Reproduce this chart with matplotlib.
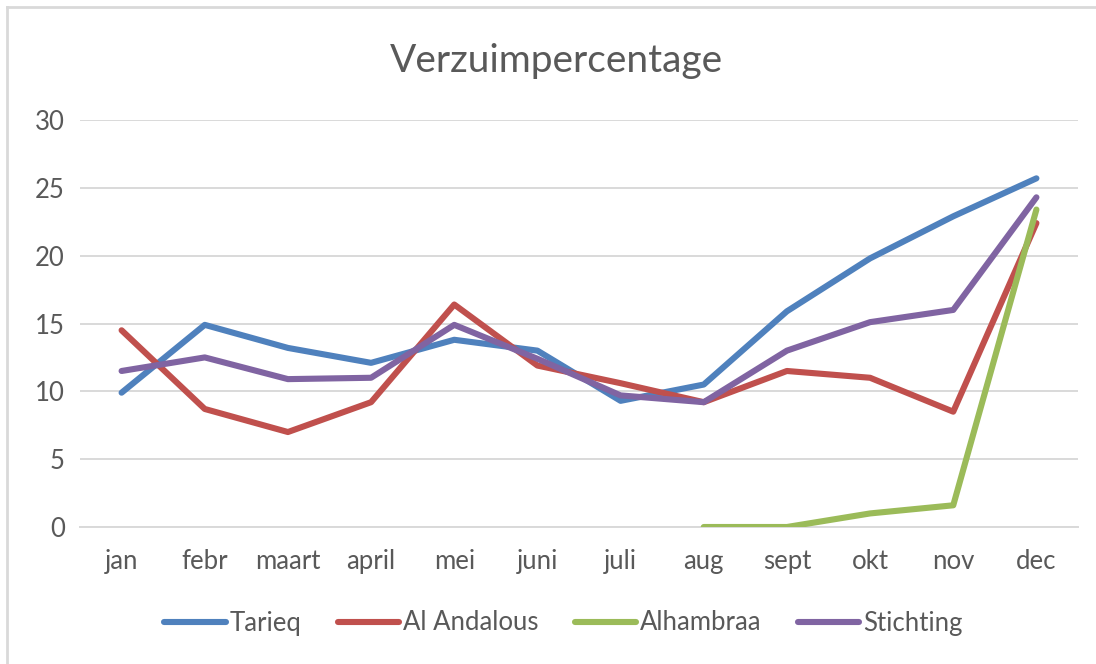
import matplotlib
matplotlib.use("Agg")
import matplotlib.pyplot as plt
from matplotlib.lines import Line2D

plt.rcParams["font.family"] = ["Lato", "DejaVu Sans"]

months = ["jan", "febr", "maart", "april", "mei", "juni",
          "juli", "aug", "sept", "okt", "nov", "dec"]

tarieq      = [9.9, 14.9, 13.2, 12.1, 13.8, 13.0, 9.3, 10.5, 15.9, 19.8, 22.9, 25.7]
al_andalous = [14.5, 8.7, 7.0, 9.2, 16.4, 11.9, 10.6, 9.2, 11.5, 11.0, 8.5, 22.4]
alhambraa   = [None] * 7 + [0.0, 0.0, 1.0, 1.6, 23.4]
stichting   = [11.5, 12.5, 10.9, 11.0, 14.9, 12.4, 9.7, 9.2, 13.0, 15.1, 16.0, 24.3]

series = [
    ("Tarieq", tarieq, "#4F81BD"),
    ("Al Andalous", al_andalous, "#C0504D"),
    ("Alhambraa", alhambraa, "#9BBB59"),
    ("Stichting", stichting, "#8064A2"),
]

fig = plt.figure(figsize=(10.96, 6.64), dpi=100)
ax = fig.add_axes([80 / 1096, 1 - 527 / 664, 998 / 1096, 407 / 664])

x = list(range(len(months)))
for name, vals, col in series:
    xs = [i for i, v in zip(x, vals) if v is not None]
    ys = [v for v in vals if v is not None]
    ax.plot(xs, ys, color=col, linewidth=4.4, solid_capstyle="round",
            solid_joinstyle="round", label=name, zorder=3)

ax.set_xlim(-0.5, 11.5)
ax.set_ylim(0, 30)
ax.set_yticks(range(0, 31, 5))
ax.set_xticks(x)
ax.set_xticklabels(months)
ax.grid(axis="y", color="#d9d9d9", linewidth=1.4, zorder=0)
for s in ["top", "right", "left"]:
    ax.spines[s].set_visible(False)
ax.spines["bottom"].set_color("#d9d9d9")
ax.spines["bottom"].set_linewidth(1.4)
ax.tick_params(length=0, labelsize=18.5, labelcolor="#595959")
ax.tick_params(axis="x", pad=16)
ax.tick_params(axis="y", pad=11)

fig.text(0.508, 1 - 61 / 664, "Verzuimpercentage", ha="center", va="center",
         fontsize=28, color="#595959")

handles = [Line2D([0], [0], color=c, linewidth=4.4, solid_capstyle="round")
           for _, _, c in series]
fig.legend(handles, [n for n, _, _ in series], loc="center",
           bbox_to_anchor=(0.514, 1 - 623 / 664), ncol=4, frameon=False,
           fontsize=18.5, labelcolor="#595959", handlelength=2.4,
           handletextpad=0.15, columnspacing=1.4)

# light frame at top and left edge
fig.add_artist(Line2D([7 / 1096, 1], [1 - 7 / 664, 1 - 7 / 664],
                      color="#d9d9d9", linewidth=2, transform=fig.transFigure))
fig.add_artist(Line2D([7 / 1096, 7 / 1096], [0, 1 - 7 / 664],
                      color="#d9d9d9", linewidth=2, transform=fig.transFigure))

fig.savefig("out.png", dpi=100)
